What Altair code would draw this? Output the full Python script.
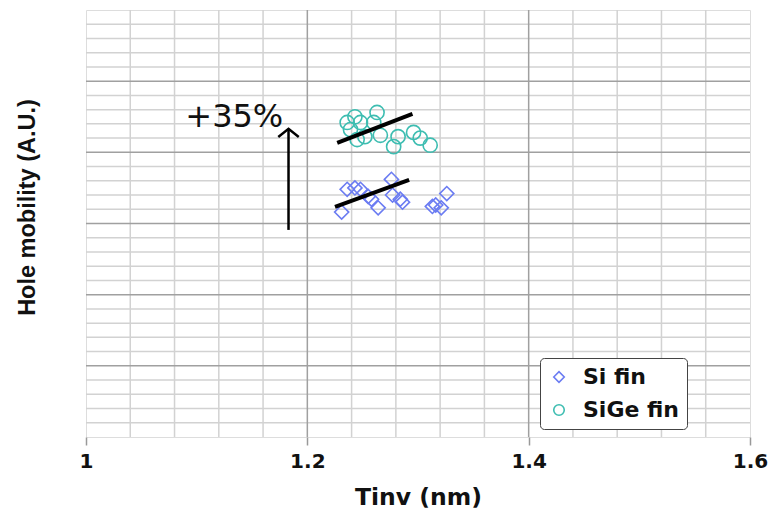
import altair as alt
import pandas as pd

# ---- data ----
si_x = [1.231, 1.236, 1.243, 1.248, 1.255, 1.258, 1.264, 1.276, 1.277, 1.284, 1.286, 1.313, 1.316, 1.321, 1.326]
si_y = [15.8, 17.4, 17.5, 17.4, 16.9, 16.7, 16.1, 18.1, 17.0, 16.7, 16.5, 16.2, 16.3, 16.1, 17.1]

sige_x = [1.236, 1.239, 1.243, 1.248, 1.260, 1.263, 1.245, 1.252, 1.266, 1.278, 1.282, 1.296, 1.302, 1.311]
sige_y = [22.1, 21.6, 22.5, 22.1, 22.1, 22.8, 20.9, 21.1, 21.2, 20.4, 21.1, 21.4, 21.0, 20.5]

fit_series = ["Si fin", "Si fin", "SiGe fin", "SiGe fin"]
fit_x = [1.225, 1.292, 1.227, 1.295]
fit_y = [16.16, 18.06, 20.66, 22.70]

arrow_x = [1.183, 1.183]
arrow_y = [14.55, 21.65]
label_x = [1.134]
label_y = [22.5]
label_text = ["+35%"]

x_ticks = [1.0, 1.2, 1.4, 1.6]
x_minor = [1.04, 1.08, 1.12, 1.16, 1.24, 1.28, 1.32, 1.36, 1.44, 1.48, 1.52, 1.56]
x_major = [1.2, 1.4]
y_minor = [1, 2, 3, 4, 6, 7, 8, 9, 11, 12, 13, 14, 16, 17, 18, 19, 21, 22, 23, 24, 26, 27, 28, 29]
y_major = [5, 10, 15, 20, 25]

series_names = ["Si fin", "SiGe fin"]
series_colors = ["#6B7CF2", "#3DBDB1"]
series_shapes = ["diamond", "circle"]

# ---- tables ----
pts = pd.DataFrame({
    "x": si_x + sige_x,
    "y": si_y + sige_y,
    "series": ["Si fin"] * len(si_x) + ["SiGe fin"] * len(sige_x),
})
fits = pd.DataFrame({"x": fit_x, "y": fit_y, "series": fit_series})
arrow = pd.DataFrame({"x": arrow_x, "y": arrow_y})
head = pd.DataFrame({"x": [arrow_x[1]], "y": [arrow_y[1]]})
lbl = pd.DataFrame({"x": label_x, "y": label_y, "t": label_text})

xs = alt.Scale(domain=[1.0, 1.6], nice=False, zero=False)
ys = alt.Scale(domain=[0, 30], nice=False, zero=False)

x_axis = alt.Axis(values=x_ticks, grid=False, domain=False, ticks=True, tickSize=8,
                  tickColor="#999999", tickWidth=1.5, labelExpr="datum.value == 1 ? '1' : format(datum.value, '.1f')",
                  labelFont="DejaVu Sans", labelFontWeight="bold", labelFontSize=20, labelColor="#111111",
                  labelPadding=6, labelFlush=False,
                  title="Tinv (nm)", titleFont="DejaVu Sans", titleFontWeight="bold", titleFontSize=23.5,
                  titleColor="#111111", titleY=60, titleBaseline="middle")
y_axis = alt.Axis(grid=False, domain=False, ticks=False, labels=False,
                  title="Hole mobility (A.U.)", titleFont="Liberation Sans", titleFontWeight="bold",
                  titleFontSize=23.5, titleColor="#111111", titleAngle=-90, titleX=-59, titleY=197,
                  titleAlign="center", titleBaseline="middle")

gx_minor = alt.Chart(pd.DataFrame({"x": x_minor})).mark_rule(color="#d2d2d2", strokeWidth=1.5).encode(
    x=alt.X("x:Q", scale=xs, axis=x_axis))
gy_minor = alt.Chart(pd.DataFrame({"y": y_minor})).mark_rule(color="#d2d2d2", strokeWidth=1.5).encode(
    y=alt.Y("y:Q", scale=ys, axis=y_axis))
gx_major = alt.Chart(pd.DataFrame({"x": x_major})).mark_rule(color="#a0a0a0", strokeWidth=1.5).encode(
    x=alt.X("x:Q", scale=xs))
gy_major = alt.Chart(pd.DataFrame({"y": y_major})).mark_rule(color="#a0a0a0", strokeWidth=1.5).encode(
    y=alt.Y("y:Q", scale=ys))

points = alt.Chart(pts).mark_point(filled=False, size=200, strokeWidth=1.6, opacity=1).encode(
    x=alt.X("x:Q", scale=xs),
    y=alt.Y("y:Q", scale=ys),
    color=alt.Color("series:N", scale=alt.Scale(domain=series_names, range=series_colors),
                    legend=alt.Legend(orient="none", legendX=454, legendY=348, title=None,
                                      strokeColor="#444444", fillColor="white", padding=8,
                                      cornerRadius=4, labelFont="DejaVu Sans", labelFontWeight="bold",
                                      labelFontSize=22, labelColor="#111111", symbolSize=110,
                                      symbolStrokeWidth=1.6, rowPadding=11, labelOffset=13)),
    shape=alt.Shape("series:N", scale=alt.Scale(domain=series_names, range=series_shapes), legend=None),
)

fit_lines = alt.Chart(fits).mark_line(color="black", strokeWidth=4).encode(
    x=alt.X("x:Q", scale=xs), y=alt.Y("y:Q", scale=ys), detail="series:N")

arrow_line = alt.Chart(arrow).mark_line(color="black", strokeWidth=2.5).encode(
    x=alt.X("x:Q", scale=xs), y=alt.Y("y:Q", scale=ys))
arrow_head = alt.Chart(head).mark_point(shape="M -1 0.8 L 0 0 L 1 0.8", filled=False, color="black",
                                        strokeWidth=2.5, size=420, opacity=1).encode(
    x=alt.X("x:Q", scale=xs), y=alt.Y("y:Q", scale=ys))

text = alt.Chart(lbl).mark_text(font="DejaVu Sans", fontSize=32, color="#111111", align="center",
                                baseline="middle").encode(
    x=alt.X("x:Q", scale=xs), y=alt.Y("y:Q", scale=ys), text="t:N")

chart = alt.layer(gx_minor, gy_minor, gx_major, gy_major, points, fit_lines, arrow_line, arrow_head, text).properties(
    width=664, height=427,
    autosize=alt.AutoSizeParams(type="none"),
    padding={"left": 86, "top": 10, "right": 22, "bottom": 75},
).configure_view(stroke="#8a8a8a", strokeWidth=1.5).configure(background="white")

chart.save("out.html", embed_options={"renderer": "svg", "actions": False})
